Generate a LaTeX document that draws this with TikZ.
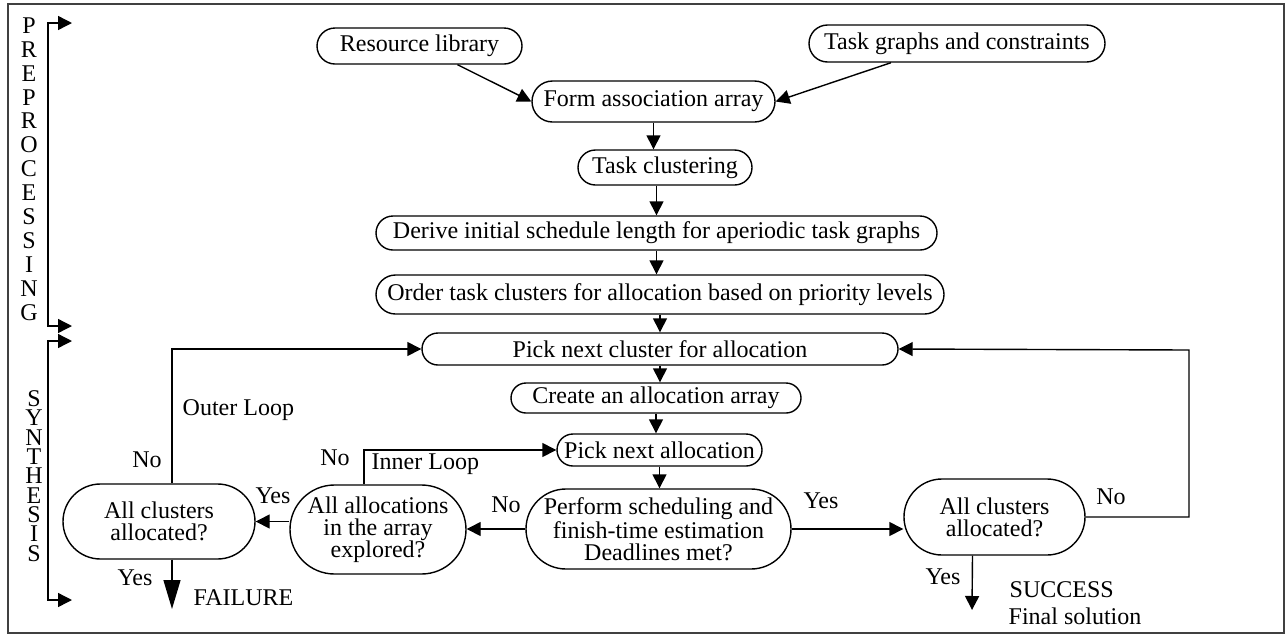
\documentclass[tikz,border=0pt]{standalone}
\usepackage{fontspec}
\setmainfont{Liberation Serif}
\usetikzlibrary{arrows.meta}

\begin{document}
\begin{tikzpicture}[x=0.5pt,y=-0.5pt,line width=0.7pt,>={Triangle[length=7pt,width=7pt]},
  every node/.style={font=\fontsize{12}{11}\selectfont,inner sep=0pt},
  proc/.style 2 args={draw,rectangle,align=center,minimum width=#1,minimum height=#2,rounded corners=0.5*#2}]
\useasboundingbox (0,0) rectangle (1286,638);
\draw[black!75,line width=0.9pt] (8,4) rectangle (1284,633);
% phase labels
\node[font=\fontsize{12}{11.95}\selectfont,align=center] (prelbl) at (29,169) {P\\R\\E\\P\\R\\O\\C\\E\\S\\S\\I\\N\\G};
\node[font=\fontsize{12}{9.65}\selectfont,align=center] (synlbl) at (34,476) {S\\Y\\N\\T\\H\\E\\S\\I\\S};
\coordinate (preA) at (72,23);
\coordinate (preL) at (48,23);
\coordinate (preB) at (72,326);
\coordinate (synA) at (72,341);
\coordinate (synL) at (48,341);
\coordinate (synB) at (72,600);
\draw[<->] (preA) -- (preL) |- (preB);
\draw[<->] (synA) -- (synL) |- (synB);
% preprocessing
\node[proc={102.5pt}{18pt}] (res) at (419.5,46) {Resource library};
\node[proc={148pt}{18.5pt}] (tgc) at (957,43.5) {Task graphs and constraints};
\node[proc={121.5pt}{20.5pt}] (form) at (653.5,101.5) {Form association array};
\node[proc={87pt}{17.5pt}] (clust) at (665,167.5) {Task clustering};
\node[proc={280.5pt}{17pt}] (derive) at (656.5,233) {Derive initial schedule length for aperiodic task graphs};
\node[proc={284pt}{19.5pt}] (order) at (660,294.5) {Order task clusters for allocation based on priority levels};
\draw[->] ([xshift=19pt]res.south) -- (form.west);
\draw[->] ([xshift=-33pt]tgc.south) -- (form.east);
\draw[->] (form.south) -- (form.south |- clust.north);
\draw[->] (derive.north |- clust.south) -- (derive.north);
\draw[->] (derive.south) -- (derive.south |- order.north);
% synthesis
\node[proc={238pt}{16pt}] (pickc) at (660,349) {Pick next cluster for allocation};
\node[proc={145pt}{15pt}] (create) at (656,398) {Create an allocation array};
\node[proc={102.5pt}{16pt}] (picka) at (659.5,450) {Pick next allocation};
\node[proc={132.5pt}{40pt}] (perf) at (658.5,529) {Perform scheduling and\\finish-time estimation\\Deadlines met?};
\node[proc={88pt}{44.5pt}] (explored) at (378,529.5) {All allocations\\in the array\\explored?};
\node[proc={96pt}{37.5pt}] (doneL) at (159,521.5) {All clusters\\allocated?};
\node[proc={90.5pt}{38pt}] (doneR) at (994.5,517) {All clusters\\allocated?};
\coordinate (loopR) at (1189,350);
\coordinate (failtip) at (172,609);
\coordinate (oktip) at (972,610);
\draw[->] (order.south) -- (order.south |- pickc.north);
\draw[->] (pickc.south) -- (pickc.south |- create.north);
\draw[->] (create.south) -- (create.south |- picka.north);
\draw[->] (picka.south) -- (picka.south |- perf.north);
\draw[->] (perf.west) -- (perf.west -| explored.east);
\draw[->] (explored.west |- doneL.east) -- (doneL.east);
\draw[->] (perf.east) -- (perf.east -| doneR.west);
\draw[->] ([xshift=-7pt]explored.north) |- (picka.west);
\draw[->] ([xshift=6.5pt]doneL.north) |- (pickc.west);
\draw[->] (doneR.east) -| (loopR) -- (pickc.east);
\draw[-{Triangle[length=14.5pt,width=8.5pt]}] ([xshift=6.5pt]doneL.south) -- (failtip);
\draw[->] ([xshift=-11pt]doneR.south) -- (oktip);
% branch labels
\node (outerlbl) [anchor=west] at (182,410) {Outer Loop};
\node (nooutlbl) at (147,460) {No};
\node (yesleftlbl) at (273,496) {Yes};
\node (noinlbl) at (335,458) {No};
\node (innerlbl) [anchor=west] at (371,464) {Inner Loop};
\node (noperflbl) at (506,505) {No};
\node (yesperflbl) at (821,501) {Yes};
\node (norightlbl) at (1111,497) {No};
\node (yesfaillbl) at (135,578) {Yes};
\node (faillbl) [anchor=west] at (193,598) {FAILURE};
\node (yesoklbl) at (943,577) {Yes};
\node (oklbl) [anchor=west] at (1009,590) {SUCCESS};
\node (finallbl) [anchor=west] at (1008,616) {Final solution};
\end{tikzpicture}
\end{document}
